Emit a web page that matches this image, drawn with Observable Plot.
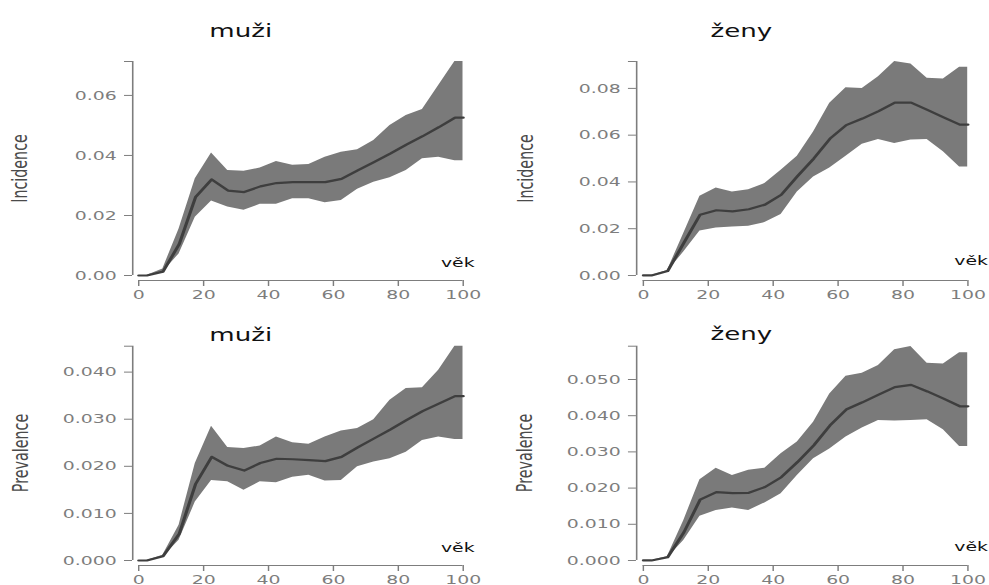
<!DOCTYPE html>
<html><head><meta charset="utf-8">
<script src="https://cdn.jsdelivr.net/npm/d3@7"></script>
<script src="https://cdn.jsdelivr.net/npm/@observablehq/plot@0.6"></script>
<style>
html,body{margin:0;padding:0;background:#fff;overflow:hidden;}
#fig{position:relative;width:682px;height:585px;transform:scaleX(1.45);transform-origin:0 0;}
.panel{position:absolute;}
</style></head><body><div id="fig"></div>
<script>
// ---- data ----
const age = [0, 2.5, 7.5, 12.5, 17.5, 22.5, 27.5, 32.5, 37.5, 42.5, 47.5, 52.5, 57.5, 62.5, 67.5, 72.5, 77.5, 82.5, 87.5, 92.5, 97.5, 100];

const incMuziMean = [0, 0, 0.0013, 0.0105, 0.0261, 0.0320, 0.0283, 0.0278, 0.0297, 0.0308, 0.0311, 0.0311, 0.0311, 0.0322, 0.0350, 0.0378, 0.0406, 0.0436, 0.0464, 0.0494, 0.0526, 0.0526];
const incMuziHi   = [0, 0, 0.0022, 0.0155, 0.0322, 0.0408, 0.0350, 0.0347, 0.0358, 0.0380, 0.0367, 0.0370, 0.0394, 0.0411, 0.0419, 0.0450, 0.0500, 0.0533, 0.0553, 0.0633, 0.0713, 0.0713];
const incMuziLo   = [0, 0, 0.0011, 0.0072, 0.0194, 0.0248, 0.0228, 0.0217, 0.0237, 0.0237, 0.0256, 0.0256, 0.0242, 0.0250, 0.0287, 0.0311, 0.0326, 0.0350, 0.0389, 0.0394, 0.0382, 0.0382];

const incZenyMean = [0, 0, 0.0019, 0.0140, 0.0260, 0.0279, 0.0274, 0.0283, 0.0303, 0.0345, 0.0425, 0.0500, 0.0585, 0.0643, 0.0671, 0.0703, 0.0739, 0.0739, 0.0708, 0.0676, 0.0645, 0.0645];
const incZenyHi   = [0, 0, 0.0021, 0.0180, 0.0339, 0.0374, 0.0357, 0.0367, 0.0393, 0.0450, 0.0510, 0.0614, 0.0736, 0.0803, 0.0800, 0.0850, 0.0915, 0.0904, 0.0843, 0.0840, 0.0890, 0.0890];
const incZenyLo   = [0, 0, 0.0017, 0.0100, 0.0190, 0.0203, 0.0207, 0.0211, 0.0226, 0.0261, 0.0357, 0.0421, 0.0460, 0.0510, 0.0561, 0.0581, 0.0564, 0.0579, 0.0581, 0.0529, 0.0464, 0.0464];

const prevMuziMean = [0, 0, 0.0009, 0.0057, 0.0162, 0.0220, 0.0201, 0.0191, 0.0207, 0.0216, 0.0215, 0.0213, 0.0211, 0.0220, 0.0240, 0.0259, 0.0278, 0.0298, 0.0317, 0.0333, 0.0349, 0.0349];
const prevMuziHi   = [0, 0, 0.0011, 0.0075, 0.0206, 0.0285, 0.0240, 0.0238, 0.0243, 0.0262, 0.0250, 0.0247, 0.0262, 0.0275, 0.0280, 0.0299, 0.0340, 0.0365, 0.0367, 0.0404, 0.0455, 0.0455];
const prevMuziLo   = [0, 0, 0.0007, 0.0043, 0.0124, 0.0170, 0.0167, 0.0149, 0.0167, 0.0165, 0.0177, 0.0181, 0.0169, 0.0170, 0.0199, 0.0209, 0.0216, 0.0230, 0.0255, 0.0262, 0.0257, 0.0257];

const prevZenyMean = [0, 0, 0.0009, 0.0078, 0.0168, 0.0189, 0.0186, 0.0187, 0.0203, 0.0230, 0.0272, 0.0318, 0.0373, 0.0417, 0.0437, 0.0458, 0.0479, 0.0485, 0.0467, 0.0447, 0.0426, 0.0426];
const prevZenyHi   = [0, 0, 0.0011, 0.0110, 0.0223, 0.0255, 0.0235, 0.0249, 0.0255, 0.0295, 0.0327, 0.0382, 0.0460, 0.0509, 0.0517, 0.0539, 0.0582, 0.0591, 0.0545, 0.0543, 0.0574, 0.0574];
const prevZenyLo   = [0, 0, 0.0007, 0.0055, 0.0122, 0.0138, 0.0145, 0.0138, 0.0159, 0.0184, 0.0235, 0.0281, 0.0308, 0.0341, 0.0366, 0.0387, 0.0385, 0.0387, 0.0389, 0.0361, 0.0315, 0.0315];

const xTicks = [0, 20, 40, 60, 80, 100];
const incTicksMuzi = [0, 0.02, 0.04, 0.06];
const incTicksZeny = [0, 0.02, 0.04, 0.06, 0.08];
const prevTicksMuzi = [0, 0.01, 0.02, 0.03, 0.04];
const prevTicksZeny = [0, 0.01, 0.02, 0.03, 0.04, 0.05];
const titles = ["muži", "ženy"];
const yLabels = ["Incidence", "Prevalence"];
const xLabel = "věk";

// ---- layout (screen px) ----
const S = 1.45;
const panels = [
  {left: 0, top: 0, h: 300, axisX: 132, x0: 138, x100: 462.5, zeroY: 275, topY: 61, xAxisY: 280, ymax: 0.0713,
   ticks: incTicksMuzi, fmt: ".2f", title: titles[0], titleX: 240, titleY: 36.5, label: yLabels[0], labelX: 20, labelY: 168, vekX: 457, vekY: 266,
   mean: incMuziMean, hi: incMuziHi, lo: incMuziLo},
  {left: 494.5, top: 0, h: 300, axisX: 636, x0: 642.7, x100: 967.3, zeroY: 275, topY: 61, xAxisY: 280, ymax: 0.0915,
   ticks: incTicksZeny, fmt: ".2f", title: titles[1], titleX: 740.7, titleY: 37, label: yLabels[0], labelX: 525.5, labelY: 168, vekX: 970.5, vekY: 265,
   mean: incZenyMean, hi: incZenyHi, lo: incZenyLo},
  {left: 0, top: 300, h: 285, axisX: 132, x0: 138, x100: 462.5, zeroY: 560, topY: 345.7, xAxisY: 565, ymax: 0.0455,
   ticks: prevTicksMuzi, fmt: ".3f", title: titles[0], titleX: 240, titleY: 340, label: yLabels[1], labelX: 20.5, labelY: 452.5, vekX: 457, vekY: 551,
   mean: prevMuziMean, hi: prevMuziHi, lo: prevMuziLo},
  {left: 494.5, top: 300, h: 285, axisX: 636, x0: 642.7, x100: 967.3, zeroY: 560, topY: 345.7, xAxisY: 565, ymax: 0.0592,
   ticks: prevTicksZeny, fmt: ".3f", title: titles[1], titleX: 740.7, titleY: 340, label: yLabels[1], labelX: 525, labelY: 452.5, vekX: 970.5, vekY: 551,
   mean: prevZenyMean, hi: prevZenyHi, lo: prevZenyLo}
];

const fig = document.getElementById("fig");
const axisColor = "#7d7d7d";

for (const p of panels) {
  const lx = v => (v - p.left) / S;
  const ly = v => v - p.top;
  const W = 341;
  const mL = lx(p.axisX);
  const mB = p.h - ly(p.xAxisY);
  const rows = age.map((a, i) => ({age: a, mean: p.mean[i], hi: p.hi[i], lo: p.lo[i]}));
  const f = d3.format(p.fmt);
  const chart = Plot.plot({
    width: W, height: p.h,
    marginLeft: mL, marginTop: 0, marginRight: 0, marginBottom: mB,
    style: {fontFamily: "DejaVu Sans", background: "transparent", overflow: "visible"},
    x: {domain: [0, 100], range: [lx(p.x0), lx(p.x100)]},
    y: {domain: [0, p.ymax], range: [ly(p.zeroY), ly(p.topY)]},
    marks: [
      Plot.areaY(rows, {x: "age", y1: "lo", y2: "hi", fill: "#7a7a7a"}),
      Plot.lineY(rows, {x: "age", y: "mean", stroke: "#3e3e3e", strokeWidth: 2.2}),
      Plot.ruleX([0], {y1: 0, y2: p.ymax, dx: lx(p.axisX) - lx(p.x0), stroke: axisColor, strokeWidth: 1.1}),
      Plot.axisY({ticks: [...p.ticks, p.ymax], tickFormat: d => d === p.ymax ? "" : f(d),
        tickSize: 8 / S, tickPadding: 5.5, fontSize: 13, color: axisColor, label: null}),
      Plot.ruleY([0], {x1: 0, x2: 100, dy: ly(p.xAxisY) - ly(p.zeroY), stroke: axisColor, strokeWidth: 1.1}),
      Plot.axisX({ticks: xTicks, tickSize: 6, tickPadding: 3, fontSize: 13, color: axisColor, label: null}),
      Plot.text([p.title], {text: d => d, frameAnchor: "top-left", dx: lx(p.titleX) - mL, dy: ly(p.titleY),
        textAnchor: "middle", lineAnchor: "bottom", fontSize: 18, fill: "#111"}),
      Plot.text([xLabel], {text: d => d, frameAnchor: "top-left", dx: lx(p.vekX) - mL, dy: ly(p.vekY),
        textAnchor: "middle", lineAnchor: "bottom", fontSize: 13, fill: "#111"}),
      Plot.text([p.label], {text: d => d, frameAnchor: "top-left", dx: lx(p.labelX) - mL, dy: ly(p.labelY),
        textAnchor: "middle", lineAnchor: "middle", rotate: -90, fontSize: 14.3, fill: "#4a4a4a"})
    ]
  });
  const div = document.createElement("div");
  div.className = "panel";
  div.style.left = (p.left / S) + "px";
  div.style.top = p.top + "px";
  div.appendChild(chart);
  fig.appendChild(div);
}
</script>
</body></html>
